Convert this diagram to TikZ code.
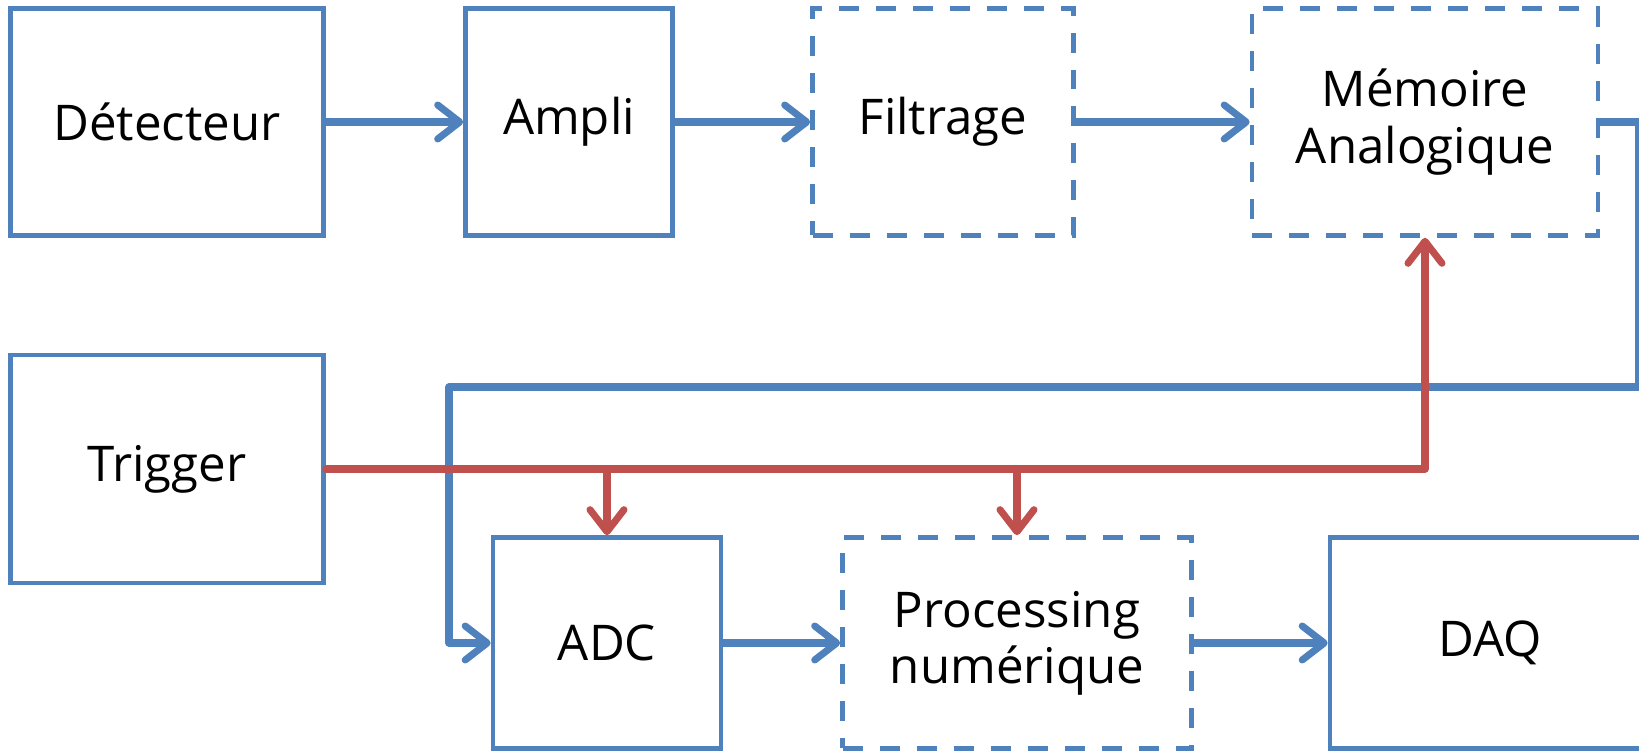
\documentclass[tikz,border=0pt]{standalone}
\usepackage{fontspec}
\setmainfont{Open Sans}
\usetikzlibrary{arrows.meta}
\definecolor{bleu}{HTML}{4F81BD}
\definecolor{rouge}{HTML}{C0504D}
\tikzset{
    bloc/.style={draw=bleu, line width=1.3pt, minimum height=2.27cm, align=center,
        font=\fontsize{14}{16}\selectfont, inner sep=0pt},
    blocpt/.style={bloc, dash pattern=on 0.2cm off 0.17cm},
    fleche/.style={draw=bleu, line width=2pt, line cap=round, line join=round,
        -{Straight Barb[length=0.22cm, width=0.34cm, round]}},
    trig/.style={fleche, draw=rouge}
}
\begin{document}
\begin{tikzpicture}
    \useasboundingbox (0,0) rectangle (16.39,-7.51);

    % Chaine analogique
    \node[bloc, minimum width=3.13cm] (det) at (1.67,-1.22) {Détecteur};
    \node[bloc, minimum width=2.07cm] (ampli) at (5.69,-1.22) {Ampli};
    \node[blocpt, minimum width=2.61cm] (filt) at (9.43,-1.22) {Filtrage};
    \node[blocpt, minimum width=3.46cm] (mem) at (14.25,-1.22) {Mémoire\\Analogique};

    % Trigger
    \node[bloc, minimum width=3.13cm, minimum height=2.28cm] (trigger) at (1.67,-4.69) {Trigger};

    % Chaine numerique
    \node[bloc, minimum width=2.28cm, minimum height=2.11cm] (adc) at (6.07,-6.43) {ADC};
    \node[blocpt, minimum width=3.49cm, minimum height=2.11cm] (proc) at (10.17,-6.43) {Processing\\numérique};
    \node[bloc, minimum width=3.2cm, minimum height=2.11cm] (daq) at (14.90,-6.43) {DAQ};

    % Fleches du signal
    \draw[fleche] (det) -- (ampli);
    \draw[fleche] (ampli) -- (filt);
    \draw[fleche] (filt) -- (mem);
    \draw[fleche] (adc) -- (proc);
    \draw[fleche] (proc) -- (daq);

    % Retour vers l'ADC
    \coordinate (retD) at (16.38,-3.87);
    \coordinate (retG) at (4.49,-3.87);
    \draw[fleche] (mem.east) -| (retD) -- (retG) |- (adc.west);

    % Signal de trigger
    \draw[trig] (trigger.east) -| (mem.south);
    \draw[trig] (adc.north |- trigger.east) -- (adc.north);
    \draw[trig] (proc.north |- trigger.east) -- (proc.north);
\end{tikzpicture}
\end{document}
